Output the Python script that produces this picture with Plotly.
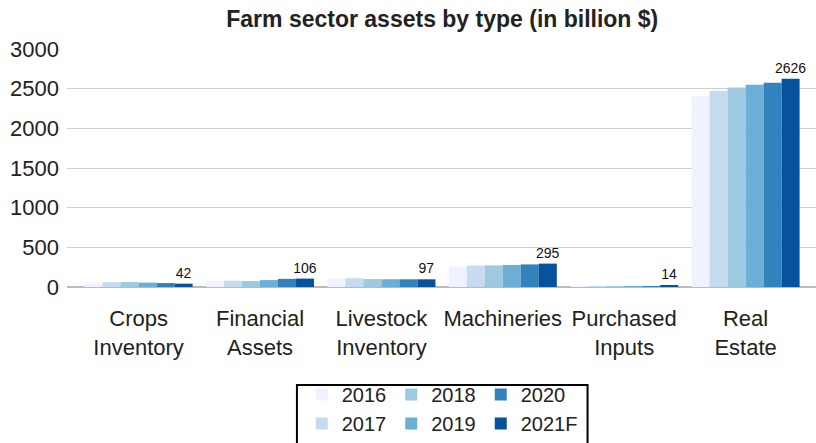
import plotly.graph_objects as go

categories = ["Crops<br>Inventory", "Financial<br>Assets", "Livestock<br>Inventory",
              "Machineries", "Purchased<br>Inputs", "Real<br>Estate"]
years = ["2016", "2017", "2018", "2019", "2020", "2021F"]

v2016 = [55, 75, 105, 255, 5, 2405]
v2017 = [62, 80, 110, 270, 7, 2475]
v2018 = [62, 76, 100, 272, 8, 2515]
v2019 = [55, 87, 98, 278, 9, 2550]
v2020 = [50, 103, 97, 285, 11, 2575]
v2021 = [42, 106, 97, 295, 14, 2626]

values = [v2016, v2017, v2018, v2019, v2020, v2021]
colors = ["#eff3ff", "#c6dbef", "#9ecae1", "#6baed6", "#3182bd", "#08519c"]
# legend columns: 2016/2017, 2018/2019, 2020/2021F
groups = ["a", "a", "b", "b", "c", "c"]

fig = go.Figure()
for i, y in enumerate(years):
    last = y == "2021F"
    fig.add_trace(go.Bar(
        x=categories, y=values[i], name=y,
        marker=dict(color=colors[i], line=dict(width=0)),
        legendgroup=groups[i],
        text=values[i] if last else None,
        textposition="outside" if last else None,
        textfont=dict(size=14, color="#111"),
        constraintext="none",
        cliponaxis=False,
    ))

# legend frame (runs off the bottom edge like the original)
fig.add_shape(type="rect", xref="paper", yref="paper",
              x0=0.307, x1=0.695, y0=-0.75, y1=-0.412,
              line=dict(color="black", width=2), fillcolor="rgba(0,0,0,0)")

fig.update_layout(
    width=816, height=443,
    barmode="group", bargap=0.11, bargroupgap=0,
    plot_bgcolor="white", paper_bgcolor="white",
    font=dict(family="Liberation Sans, Arial, sans-serif", size=22, color="#222"),
    title=dict(text="<b>Farm sector assets by type (in billion $)</b>",
               x=0.542, xanchor="center", y=0.958, yanchor="middle",
               font=dict(size=23, color="#222")),
    margin=dict(l=67, r=0, t=49, b=156),
    showlegend=True,
    legend=dict(orientation="h", x=0.501, xanchor="center",
                y=-0.657, yanchor="bottom", borderwidth=0,
                tracegroupgap=4, font=dict(size=20), traceorder="grouped",
                bgcolor="rgba(0,0,0,0)"),
    yaxis=dict(range=[0, 3000], dtick=500, showgrid=True, gridcolor="#cccccc",
               zeroline=True, zerolinecolor="#bbbbbb", ticks="", automargin=False,
               ticklabelstandoff=7, tickfont=dict(size=22)),
    xaxis=dict(range=[-0.59, 5.58], tickfont=dict(size=22), ticks="", showline=False,
               automargin=False, ticklabelstandoff=16),
)

# drop the default 8px page margin so the figure fills the window
fig.write_html("out.html", config={"displayModeBar": False},
               post_script="document.body.style.margin='0';")
